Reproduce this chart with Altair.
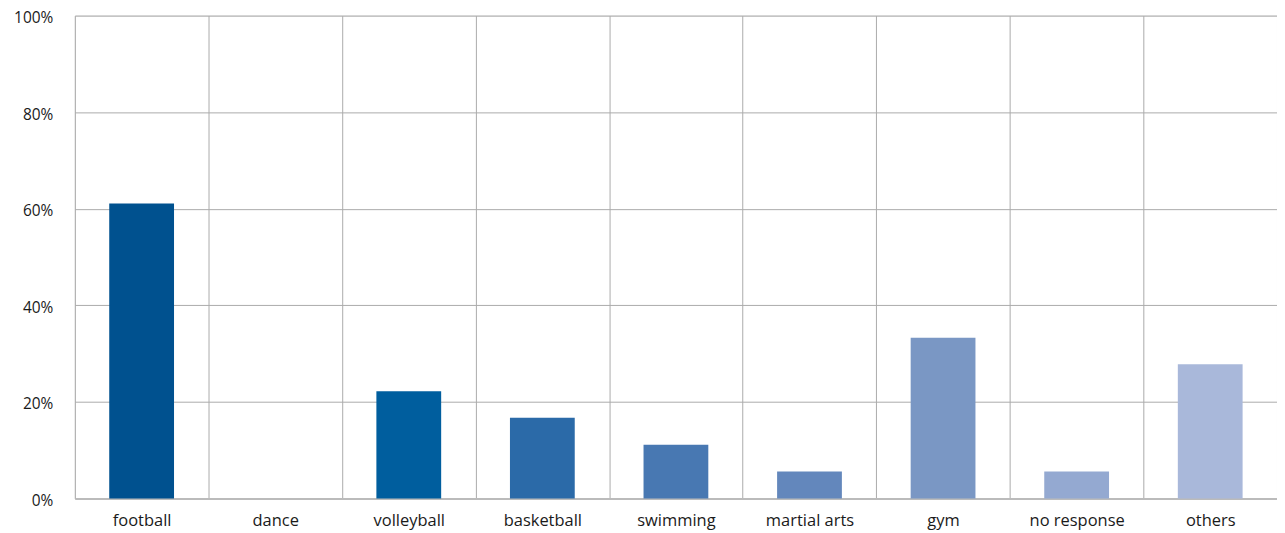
import altair as alt
import pandas as pd

categories = ["football", "dance", "volleyball", "basketball", "swimming",
              "martial arts", "gym", "no response", "others"]
values = [0.611, 0.0, 0.222, 0.167, 0.111, 0.056, 0.333, 0.056, 0.278]
colors = ["#00518F", "#0059A0", "#005E9E", "#2B6AA8", "#4878B2",
          "#6387BC", "#7A97C4", "#94A9D1", "#A9B8DA"]

df = pd.DataFrame({"category": categories, "value": values, "color": colors})

font = "Open Sans"

chart = alt.Chart(df).mark_bar(width=alt.RelativeBandSize(0.485)).encode(
    x=alt.X("category:N", sort=categories, title=None,
            scale=alt.Scale(paddingInner=0, paddingOuter=0),
            axis=alt.Axis(labelAngle=0, labelFontSize=16.5, labelColor="#1a1a1a",
                          labelFont=font, labelPadding=14, ticks=False,
                          grid=True, gridColor="#ABABAB", gridWidth=1,
                          tickBand="extent", domainColor="#BBBBBB",
                          domainWidth=2)),
    y=alt.Y("value:Q", title=None,
            scale=alt.Scale(domain=[0, 1], nice=False),
            axis=alt.Axis(format=".0%", values=[0, 0.2, 0.4, 0.6, 0.8, 1.0],
                          labelFontSize=15.5, labelColor="#1a1a1a", labelFont=font,
                          labelPadding=22, labelOffset=2, ticks=False, domain=False,
                          gridColor="#ABABAB", gridWidth=1)),
    color=alt.Color("color:N", scale=None, legend=None),
).properties(
    width=1205, height=484,
    autosize=alt.AutoSizeParams(type="none"),
    padding={"left": 67, "top": 7, "right": 0, "bottom": 40},
).configure_view(stroke=None).configure(background="white")

chart.save("out.html", embed_options={"renderer": "svg", "actions": False})
